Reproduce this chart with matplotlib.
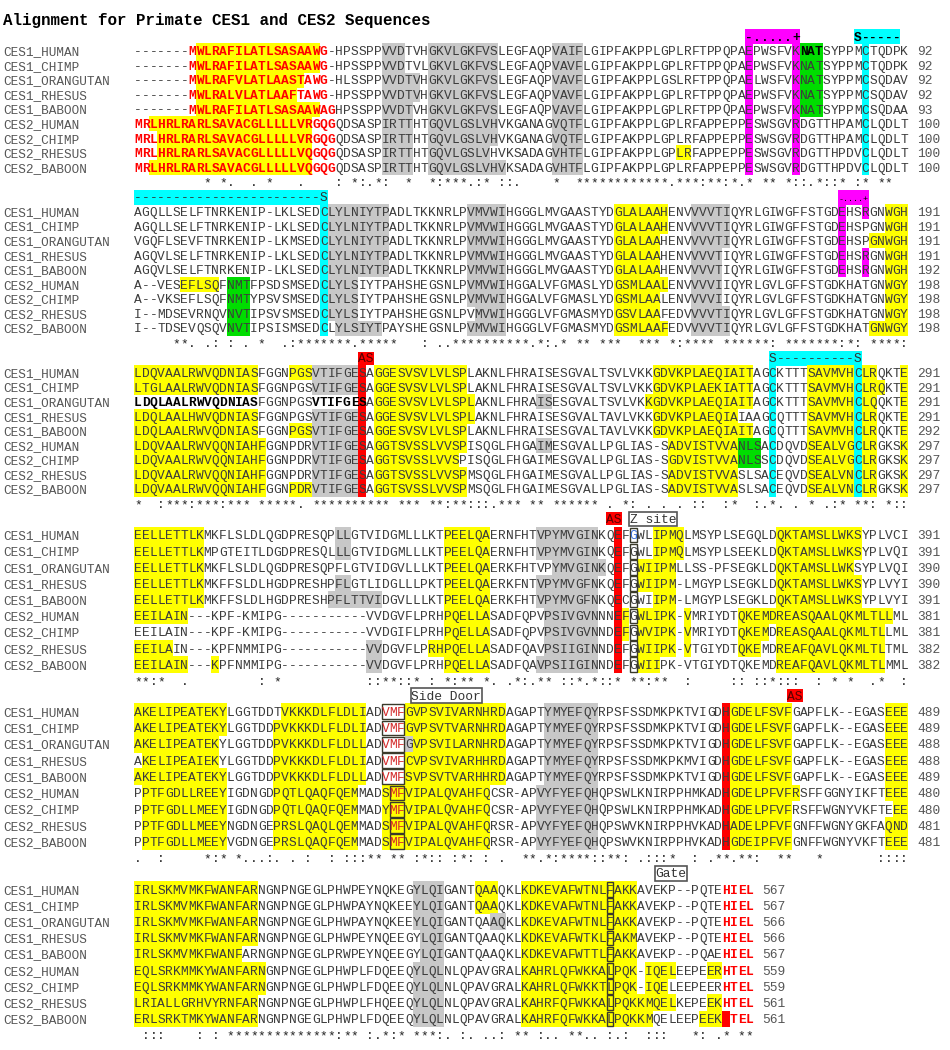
import matplotlib
matplotlib.use("Agg")
import matplotlib.pyplot as plt
from matplotlib.patches import Rectangle

title = "Alignment for Primate CES1 and CES2 Sequences"
names = ["CES1_HUMAN", "CES1_CHIMP", "CES1_ORANGUTAN", "CES1_RHESUS", "CES1_BABOON",
         "CES2_HUMAN", "CES2_CHIMP", "CES2_RHESUS", "CES2_BABOON"]

seq_b1 = [
    "-------MWLRAFILATLSASAAWG-HPSSPPVVDTVHGKVLGKFVSLEGFAQPVAIFLGIPFAKPPLGPLRFTPPQPAEPWSFVKNATSYPPMCTQDPK",
    "-------MWLRAFILATLSASAAWG-HPSSPPVVDTVLGKVLGKFVSLEGFAQPVAVFLGIPFAKPPLGPLRFTPPQPAEPWSFVKNATSYPPMCTQDPK",
    "-------MWLRAFVLATLAASTAWG-HLSSPPVVDTVHGKVLGKFVSLEGFAQPVAVFLGIPFAKPPLGSLRFTPPQPAELWSFVKNATSYPPMCSQDAV",
    "-------MWLRALVLATLAAFTAWG-HPSSPPVVDTVHGKVLGKFVSLEGFAQPVAVFLGIPFAKPPLGPLRFTPPQPAEPWSFVKNATSYPPMCSQDAV",
    "-------MWLRAFILATLSASAAWAGHPSSPPVVDTVHGKVLGKFVSLEGFAQPVAVFLGIPFAKPPLGPLRFTPPQPAEPWSFVKNATSYPPMCSQDAA",
    "MRLHRLRARLSAVACGLLLLLVRGQGQDSASPIRTTHTGQVLGSLVHVKGANAGVQTFLGIPFAKPPLGPLRFAPPEPPESWSGVRDGTTHPAMCLQDLT",
    "MRLHRLRARLSAVACGLLLLLVRGQGQDSASPIRTTHTGQVLGSLVHVKGANAGVQTFLGIPFAKPPLGPLRFAPPEPPESWSGVRDGTTHPAMCLQDLT",
    "MRLHRLRARLSAVACGLLLLLVQGQGQDSASPIRTTHTGQVLGSLVHVKSADAGVHTFLGIPFAKPPLGPLRFAPPEPPESWSGVRDGTTHPDVCLQDLT",
    "MRLHRLRARLSAVACGLLLLLVQGQGQDSASPIRTTHTGQVLGSLVHVKSADAGVHTFLGIPFAKPPLGPLRFAPPEPPESWSGVRDGTTHPDVCLQDLT",
]
seq_b2 = [
    "AGQLLSELFTNRKENIP-LKLSEDCLYLNIYTPADLTKKNRLPVMVWIHGGGLMVGAASTYDGLALAAHENVVVVTIQYRLGIWGFFSTGDEHSRGNWGH",
    "AGQLLSELFTNRKENIP-LKLSEDCLYLNIYTPADLTKKNRLPVMVWIHGGGLMVGAASTYDGLALAAHENVVVVTIQYRLGIWGFFSTGDEHSPGNWGH",
    "VGQFLSEVFTNRKENIP-LKMSEDCLYLNIYTPADLTKKNRLPVMVWIHGGGLMVGAASTYDGLALAAHENVVVVTIQYRLGIWGFFSTGDEHSPGNWGH",
    "AGQVLSELFTNRKENIP-LKLSEDCLYLNIYTPADLTKKNRLPVMVWIHGGGLMVGAASTYDGLALAAHENVVVVTIQYRLGIWGFFSTGDEHSRGNWGH",
    "AGQVLSELFTNRKENIP-LKLSEDCLYLNIYTPADLTKKNRLPVMVWIHGGGLMVGAASTYDGLALAAHENVVVVTIQYRLGIWGFFSTGDEHSRGNWGH",
    "A--VESEFLSQFNMTFPSDSMSEDCLYLSIYTPAHSHEGSNLPVMVWIHGGALVFGMASLYDGSMLAALENVVVVIIQYRLGVLGFFSTGDKHATGNWGY",
    "A--VKSEFLSQFNMTYPSVSMSEDCLYLSIYTPAHSHEGSNLPVMVWIHGGALVFGMASLYDGSMLAALENVVVVIIQYRLGVLGFFSTGDKHATGNWGY",
    "I--MDSEVRNQVNVTIPSVSMSEDCLYLSIYTPAHSHEGSNLPVMVWIHGGGLVFGMASMYDGSVLAAFEDVVVVTIQYRLGVLGFFSTGDKHATGNWGY",
    "I--TDSEVQSQVNVTIPSISMSEDCLYLSIYTPAYSHEGSNLPVMVWIHGGGLVFGMASMYDGSMLAAFEDVVVVTIQYRLGVLGFFSTGDKHATGNWGY",
]
seq_b3 = [
    "LDQVAALRWVQDNIASFGGNPGSVTIFGESAGGESVSVLVLSPLAKNLFHRAISESGVALTSVLVKKGDVKPLAEQIAITAGCKTTTSAVMVHCLRQKTE",
    "LTGLAALRWVQDNIASFGGNPGSVTIFGESAGGESVSVLVLSPLAKNLFHRAISESGVALTSVLVKKGDVKPLAEKIATTAGCKTTTSAVMVHCLRQKTE",
    "LDQLAALRWVQDNIASFGGNPGSVTIFGESAGGESVSVLVLSPLAKNLFHRAISESGVALTSVLVKKGDVKPLAEQIAITAGCKTTTSAVMVHCLQQKTE",
    "LDQLAALHWVQDNIASFGGNPGSVTIFGESAGGESVSVLVLSPLAKNLFHRAISESGVALTAVLVKKGDVKPLAEQIAIAAGCQTTTSAVMVHCLRQKTE",
    "LDQLAALRWVQDNIASFGGNPGSVTIFGESAGGESVSVLVLSPLAKNLFHRAISESGVALTAVLVKKGDVKPLAEQIAITAGCQTTTSAVMVHCLRQKTE",
    "LDQVAALRWVQQNIAHFGGNPDRVTIFGESAGGTSVSSLVVSPISQGLFHGAIMESGVALLPGLIAS-SADVISTVVANLSACDQVDSEALVGCLRGKSK",
    "LDQVAALRWVQQNIAHFGGNPDRVTIFGESAGGTSVSSLVVSPISQGLFHGAIMESGVALLPGLIAS-SGDVISTVVANLSSCDQVDSEALVGCLRGKSK",
    "LDQVAALRWVQQNIAHFGGNPDRVTIFGESAGGTSVSSLVVSPMSQGLFHGAIMESGVALLPGLIAS-SADVISTVVASLSACEQVDSEALVNCLRGKSK",
    "LDQVAALRWVQQNIAHFGGNPDRVTIFGESAGGTSVSSLVVSPMSQGLFHGAIMESGVALLPGLIAS-SADVISTVVASLSACEQVDSEALVNCLRGKSK",
]
seq_b4 = [
    "EELLETTLKMKFLSLDLQGDPRESQPLLGTVIDGMLLLKTPEELQAERNFHTVPYMVGINKQEFGWLIPMQLMSYPLSEGQLDQKTAMSLLWKSYPLVCI",
    "EELLETTLKMPGTEITLDGDPRESQLLLGTVIDGMLLLKTPEELQAERNFHTVPYMVGINKQEFGWLIPMQLMSYPLSEEKLDQKTAMSLLWKSYPLVQI",
    "EELLETTLKMKFLSLDLQGDPRESQPFLGTVIDGVLLLKTPEELQAERKFHTVPYMVGINKQEFGWIIPMLLSS-PFSEGKLDQKTAMSLLWKSYPLVQI",
    "EELLETTLKMKFFSLDLHGDPRESHPFLGTLIDGLLLPKTPEELQAERKFNTVPYMVGFNKQEFGWIIPM-LMGYPLSEGKLDQKTAMSLLWKSYPLVYI",
    "EELLETTLKMKFFSLDLHGDPRESHPFLTTVIDGVLLLKTPEELQAERKFHTVPYMVGFNKQECGWIIPM-LMGYPLSEGKLDQKTAMSLLWKSYPLVYI",
    "EEILAIN---KPF-KMIPG-----------VVDGVFLPRHPQELLASADFQPVPSIVGVNNNEFGWLIPK-VMRIYDTQKEMDREASQAALQKMLTLLML",
    "EEILAIN---KPF-KMIPG-----------VVDGIFLPRHPQELLASADFQPVPSIVGVNNDEFGWVIPK-VMRIYDTQKEMDREASQAALQKMLTLLML",
    "EEILAIN---KPFNMMIPG-----------VVDGVFLPRHPQELLASADFQAVPSIIGINNDEFGWIIPK-VTGIYDTQKEMDREAFQAVLQKMLTLTML",
    "EEILAIN---KPFNMMIPG-----------VVDGVFLPRHPQELLASADFQAVPSIIGINNDEFGWIIPK-VTGIYDTQKEMDREAFQAVLQKMLTLMML",
]
seq_b5 = [
    "AKELIPEATEKYLGGTDDTVKKKDLFLDLIADVMFGVPSVIVARNHRDAGAPTYMYEFQYRPSFSSDMKPKTVIGDHGDELFSVFGAPFLK--EGASEEE",
    "AKELIPEATEKYLGGTDDPVKKKDLFLDLIADVMFGVPSVTVARNHRDAGAPTYMYEFQYRPSFSSDMKPKTVIGDHGDELFSVFGAPFLK--EGASEEE",
    "AKELIPEATEKYLGGTDDPVKKKDLFLDLLADVMFGVPSVILARNHRDAGAPTYMYEFQYRPSFSSDMKPKTVIGDHGDELFSVFGAPFLK--EGASEEE",
    "AKELIPEAIEKYLGGTDDPVKKKDLFLDLIADVMFCVPSVIVARHHRDAGAPTYMYEFQYRPSFSSDMKPKMVIGDHGDELFSVFGAPFLK--EGASEEE",
    "AKELIPEATEKYLGGTDDPVKKKDLFLDLLADVMFSVPSVTVARHHRDAGAPTYMYEFQYRPSFSSDMKPKTVIGDHGDELFSVFGAPFLK--EGASEEE",
    "PPTFGDLLREEYIGDNGDPQTLQAQFQEMMADSMFVIPALQVAHFQCSR-APVYFYEFQHQPSWLKNIRPPHMKADHGDELPFVFRSFFGGNYIKFTEEE",
    "PPTFGDLLMEEYIGDNGDPQTLQAQFQEMMADYMFVIPALQVAHFQCSR-APVYFYEFQHQPSWLKNIRPPHMKADHGDELPFVFRSFFWGNYVKFTEEE",
    "PPTFGDLLMEEYNGDNGEPRSLQAQLQEMMADSMFVIPALQVAHFQRSR-APVYFYEFQHQPSWVKNIRPPHVKADHADELPFVFGNFFWGNYGKFAQND",
    "PPTFGDLLMEEYVGDNGEPRSLQAQFQEMMADSMFVIPALQVAHFQRSR-APVYFYEFQHQPSWVKNIRPPHVKADHGDEIPFVFGNFFWGNYVKFTEEE",
]
seq_b6 = [
    "IRLSKMVMKFWANFARNGNPNGEGLPHWPEYNQKEGYLQIGANTQAAQKLKDKEVAFWTNLFAKKAVEKP--PQTEHIEL",
    "IRLSKMVMKFWANFARNGNPNGEGLPHWPAYNQKEEYLQIGANTQAAQKLKDKEVAFWTNLFAKKAVEKP--PQTEHIEL",
    "IRLSKMVMKFWANFARNGNPNGEGLPHWPAYNQKEEYLQIGANTQAAQKLKDKEVAFWTNLFAKKAVEKP--PQTEHIEL",
    "IRLSKMVMKFWANFARNGNPNGEGLPHWPEYNQEEGYLQIGANTQAAQKLKDKEVAFWTKLFAKMAVEKP--PQTEHIEL",
    "IRLSKMVMKFWANFARNGNPNGEGLPRWPEYNQEEGYLQIGANTQAAQKLKDKEVAFWTTLFAKKAVEKP--PQAEHIEL",
    "EQLSRKMMKYWANFARNGNPNGEGLPHWPLFDQEEQYLQLNLQPAVGRALKAHRLQFWKKALPQK-IQELEEPEERHTEL",
    "EQLSRKMMKYWANFARNGNPNGEGLPHWPLFDQEEQYLQLNLQPAVGRALKAHRLQFWKKTLPQK-IQELEEPEERHTEL",
    "LRIALLGRHVYRNFARNGNPNGEGLPHWPLFHQEEQYLQLNLQPAVGRALKAHRFQFWKKALPQKKMQELKEPEEKHTEL",
    "ERLSRKTMKYWANFARNGNPNGEGLPHWPLFDQEEQYLQLNLQPAVGRALKAHRFQFWKKALPQKKMQELEEPEEKHTEL",
]
blocks = [seq_b1, seq_b2, seq_b3, seq_b4, seq_b5, seq_b6]

# conservation line under each block
consensus = [
    "         * *.  . *   .    : *:.*:  *  *:***.:* ::.    *  ************.***:**:*.* ** *::.*::* :* **  ",
    "     **. .: : . *  .:*******.*****   : ..**********.*:.* ** ***  *** *:**** ******: *******:*: ****:",
    "*  :***:***:*** *****. ********** *** **:**:::.*** ** ****** . *: . . . ::  :*  :.*. . * .:* **: *::",
    "**:*  .         : *           ::**::* : *:** *. .*:.** ::*.*::* **:**  :     :: ::*:::  : * *  .*  :",
    ".  :     *:* *...:. . :  : :::** ** :*:: :*: : .  **.*:****::**: .:::*  : .**.**:  **   *       ::::",
    " :::    : : **************:** :.*:* ***:. :. ..: ** :.. **.. :.:  :::   *: .* **",
]

end_numbers = [
    [92, 92, 92, 92, 93, 100, 100, 100, 100],
    [191, 191, 191, 191, 192, 198, 198, 198, 198],
    [291, 291, 291, 291, 292, 297, 297, 297, 297],
    [391, 391, 390, 390, 391, 381, 381, 382, 382],
    [489, 489, 488, 488, 489, 480, 480, 481, 481],
    [567, 567, 566, 566, 567, 559, 559, 561, 561],
]

# highlight spans: (rows, first col, last col, colour key); row -1 = marker line
A = list(range(9))
CES1 = [0, 1, 2, 3, 4]
CES2 = [5, 6, 7, 8]
hl_b1 = [
    ([0, 1, 4], 8, 23, "Y"), ([2], 8, 21, "Y"), ([3], 8, 20, "Y"),
    ([5, 8], 2, 22, "Y"), ([6, 7], 3, 22, "Y"),
    ([0, 1], 32, 34, "G"), ([2, 3], 32, 36, "G"), ([4, 5, 6, 7, 8], 32, 35, "G"),
    ([0, 1, 2, 3, 4, 5, 6], 38, 46, "G"), ([7], 38, 45, "G"), ([8], 38, 47, "G"),
    (A, 54, 57, "G"), ([7], 70, 71, "Y"),
    ([-1], 79, 85, "M"), (A, 79, 79, "M"), (A, 85, 85, "M"),
    (CES1, 86, 88, "N"),
    ([-1], 93, 98, "C"), (A, 94, 94, "C"),
]
hl_b2 = [
    ([-1], 0, 24, "C"), (A, 24, 24, "C"),
    (CES1, 25, 32, "G"), ([5, 6, 7], 25, 28, "G"), ([8], 26, 31, "G"),
    ([0, 1, 2, 3, 4, 5, 6, 8], 43, 47, "G"), ([7], 44, 47, "G"),
    ([0, 1, 5, 8], 62, 68, "Y"), ([2, 3, 4, 6, 7], 62, 67, "Y"),
    ([0, 1, 2, 7, 8], 72, 76, "G"), ([3, 4, 5, 6], 72, 75, "G"),
    ([-1], 91, 94, "M"), (CES1, 91, 91, "M"), ([0, 3, 4], 94, 94, "M"),
    ([0, 1, 3, 4, 5, 6, 7], 97, 99, "Y"), ([2, 8], 95, 99, "Y"),
    ([5], 6, 10, "Y"), (CES2, 12, 14, "N"),
]
hl_b3 = [
    (A, 29, 29, "R"),
    ([0, 1, 3, 4], 0, 15, "Y"), (CES2, 0, 16, "Y"),
    ([0, 4, 8], 20, 22, "Y"),
    ([0, 1, 3, 4, 5, 6, 7, 8], 23, 28, "G"),
    ([0, 1, 4, 5, 7, 8], 31, 42, "Y"), ([2, 3], 31, 43, "Y"), ([6], 31, 41, "Y"),
    ([2, 5], 52, 53, "G"),
    ([0, 1, 4], 67, 79, "Y"), ([2], 66, 79, "Y"), ([3], 67, 77, "Y"),
    (CES2, 69, 77, "Y"), ([5, 6], 78, 80, "N"),
    ([-1], 82, 93, "C"), (A, 82, 82, "C"), (A, 93, 93, "C"),
    (A, 87, 92, "Y"),
    ([0, 2, 3, 4, 5, 6, 7, 8], 94, 95, "Y"), ([1], 94, 96, "Y"),
    (A, 99, 99, "Y"),
]
hl_b4 = [
    (CES1, 0, 8, "Y"), ([5, 8], 0, 6, "Y"), ([7], 0, 4, "Y"), ([8], 10, 10, "Y"),
    ([0, 1, 3], 26, 27, "G"), ([4], 25, 31, "G"), ([7, 8], 30, 31, "G"),
    ([0, 1, 2, 3, 4, 5, 6, 8], 40, 45, "Y"), ([7], 38, 45, "Y"),
    ([0, 1, 3, 4, 8], 52, 59, "G"), ([2], 54, 60, "G"), ([5, 6, 7], 53, 59, "G"),
    (A, 62, 62, "R"), ([5, 6], 63, 63, "Y"),
    ([0, 1], 67, 70, "Y"), ([2, 3, 5, 6, 7], 65, 69, "Y"), ([4], 67, 69, "Y"),
    ([5, 6, 7], 71, 71, "Y"), ([8], 65, 67, "Y"),
    ([0, 1, 3, 4], 83, 93, "Y"), ([2], 83, 92, "Y"),
    ([5], 78, 97, "Y"), ([6], 78, 81, "Y"), ([6, 7, 8], 83, 96, "Y"), ([7], 78, 80, "Y"),
]
hl_b5 = [
    ([0, 1, 4], 0, 11, "Y"), ([2], 0, 10, "Y"), ([3], 1, 10, "Y"),
    ([0], 19, 29, "Y"), ([1, 2, 3, 4], 18, 29, "Y"),
    (CES2, 1, 11, "Y"), (CES2, 18, 28, "Y"),
    ([2], 35, 35, "G"), ([0, 1, 3, 4], 35, 47, "Y"), ([2], 36, 47, "Y"),
    (CES2, 32, 45, "Y"),
    (CES1, 53, 59, "G"), (CES2, 52, 59, "G"),
    (A, 76, 76, "R"),
    ([0, 1, 2, 3, 4, 6, 7, 8], 77, 84, "Y"), ([5], 77, 85, "Y"),
    ([0, 1, 2, 3, 4, 5, 7, 8], 97, 99, "Y"), ([6], 98, 99, "Y"),
]
hl_b6 = [
    ([0, 1, 2, 3], 0, 15, "Y"), ([4], 0, 13, "Y"), ([5, 6], 0, 16, "Y"), ([7, 8], 0, 15, "Y"),
    ([0, 1, 2, 5, 6, 7, 8], 36, 39, "G"), ([3, 4], 37, 39, "G"),
    ([0, 1], 44, 46, "Y"), ([2], 46, 47, "G"),
    ([0, 1, 2, 3, 4, 5, 6], 50, 64, "Y"), ([7], 50, 69, "Y"), ([8], 50, 66, "Y"),
    ([5], 66, 69, "Y"), ([6], 66, 68, "Y"),
    ([5, 7], 74, 75, "Y"), ([8], 73, 75, "Y"), ([8], 76, 76, "R"),
]
highlights = [hl_b1, hl_b2, hl_b3, hl_b4, hl_b5, hl_b6]

# text styles: (block, rows, first col, last col, style)
text_styles = [
    (0, [0, 1, 2, 3], 7, 24, "rb"), (0, [4], 7, 25, "rb"), (0, CES2, 0, 25, "rb"),
    (0, [0], 86, 88, "kb"),
    (2, [2], 0, 15, "kb"), (2, [2], 23, 29, "kb"),
    (3, [0], 64, 64, "b"),
    (4, CES1, 32, 34, "r"), (4, CES2, 33, 34, "r"),
    (5, A, 76, 79, "rb"),
]

# outlined cells: (block, rows, first col, last col)
outlines = [(3, A, 64, 64), (4, CES1, 32, 34), (4, CES2, 33, 34), (5, A, 61, 61)]

# marker-line text: (block, first col, text, bold)
marker_text = [
    (0, 79, "-.....+", True), (0, 93, "S-----", True),
    (1, 0, "------------------------S", False),
    (2, 82, "S----------S", False),
]
# labelled boxes above a block: (block, col, width in cols, text, kind)
labels = [
    (2, 29, 2, "AS", "red"),
    (3, 61, 2, "AS", "red"), (3, 64, 6.2, "Z site", "box"),
    (4, 35.75, 9.2, "Side Door", "box"), (4, 84.4, 2, "AS", "red"),
    (5, 67.3, 4.2, "Gate", "box"),
]

colours = {"Y": "#ffff00", "G": "#c8c8c8", "M": "#ff00ff", "C": "#00ffff",
           "N": "#00dd00", "R": "#ff0000"}
style_map = {"rb": ("#ff0000", "bold"), "kb": ("#000000", "bold"),
             "r": ("#d42a2a", "normal"), "b": ("#3a6fd8", "normal")}

X0 = 134.0
CW = 7.74
Y0 = [51.0, 211.7, 372.7, 535.0, 711.7, 889.3]
DY = [14.55, 14.55, 14.55, 16.2, 16.25, 16.2]
FONT = "Liberation Mono"
FS = CW / 0.6001 * 72 / 100
BASE = 4.3

fig = plt.figure(figsize=(9.5, 10.5), dpi=100)
ax = fig.add_axes([0, 0, 1, 1])
ax.set_xlim(0, 950)
ax.set_ylim(1050, 0)
ax.axis("off")

ax.text(3, 25, title, fontsize=11.4, family=FONT, weight="bold", color="black", va="baseline")


def row_y(b, r):
    return Y0[b] + r * DY[b]


for b, seqs in enumerate(blocks):
    d = DY[b]
    # coloured cells
    for rows, c0, c1, key in highlights[b]:
        for r in rows:
            y = row_y(b, r)
            ax.add_patch(Rectangle((X0 + c0 * CW, y - d / 2 - 0.3), (c1 - c0 + 1) * CW, d + 0.6,
                                   facecolor=colours[key], edgecolor="none", zorder=1))
    for bb, rows, c0, c1 in outlines:
        if bb != b:
            continue
        for r in rows:
            y = row_y(b, r)
            ax.add_patch(Rectangle((X0 + c0 * CW + 0.5, y - d / 2 + 0.8), (c1 - c0 + 1) * CW - 1, d - 1.6,
                                   facecolor="none", edgecolor="#3a3a2a", linewidth=1.0, zorder=3))
    # names, residues, numbers
    for r, s in enumerate(seqs):
        y = row_y(b, r)
        ax.text(3, y + BASE, names[r], fontsize=FS * 0.985, family=FONT, color="#555555", va="baseline")
        for c, ch in enumerate(s):
            col, wt = "#3c3c3c", "normal"
            for bb, rows, c0, c1, st in text_styles:
                if bb == b and r in rows and c0 <= c <= c1:
                    col, wt = style_map[st]
            ax.text(X0 + (c + 0.5) * CW, y + BASE, ch, fontsize=FS, family=FONT, color=col,
                    weight=wt, ha="center", va="baseline", zorder=4)
        ax.text(X0 + (len(s) + 1) * CW + 1.5, y + BASE, str(end_numbers[b][r]), fontsize=FS,
                family=FONT, color="#555555", va="baseline")
    # conservation line
    yc = row_y(b, 9)
    for c, ch in enumerate(consensus[b]):
        if ch != " ":
            ax.text(X0 + (c + 0.5) * CW, yc + BASE, ch, fontsize=FS, family=FONT, color="#222222",
                    ha="center", va="baseline")
    # marker line
    ym = row_y(b, -1)
    for bb, c0, txt, bold in marker_text:
        if bb != b:
            continue
        for i, ch in enumerate(txt):
            ax.text(X0 + (c0 + i + 0.5) * CW, ym + BASE, ch, fontsize=FS, family=FONT,
                    color="black" if bold else "#333333", weight="bold" if bold else "normal",
                    ha="center", va="baseline", zorder=4)
    if b == 1:
        ax.text(X0 + 93 * CW, ym + 2.5, "-....+", fontsize=6, family=FONT, color="black",
                ha="center", va="center", zorder=4)
    for bb, c0, w, txt, kind in labels:
        if bb != b:
            continue
        x = X0 + c0 * CW
        if kind == "red":
            ax.add_patch(Rectangle((x, ym - 6.5), w * CW, 13, facecolor="#ff0000", edgecolor="none", zorder=2))
            ax.text(x + w * CW / 2, ym + BASE, txt, fontsize=FS, family=FONT, color="#5a0000",
                    ha="center", va="baseline", zorder=4)
        else:
            ax.add_patch(Rectangle((x, ym - 7), w * CW, 14.5, facecolor="white", edgecolor="#555555",
                                   linewidth=1.2, zorder=2))
            ax.text(x + w * CW / 2, ym + BASE, txt, fontsize=FS, family=FONT, color="#333333",
                    ha="center", va="baseline", zorder=4)

fig.savefig("out.png", dpi=100)
plt.close(fig)
